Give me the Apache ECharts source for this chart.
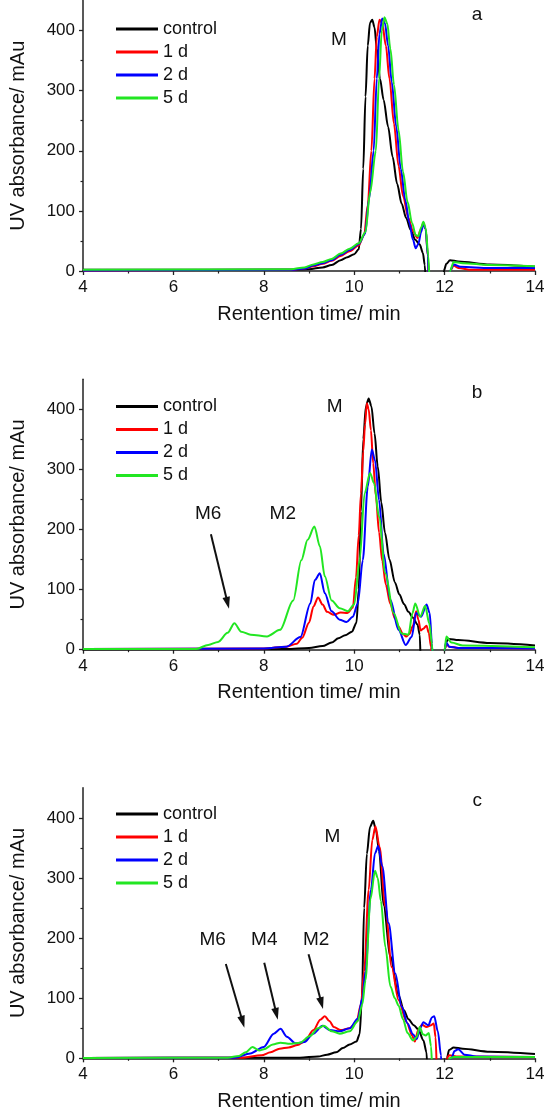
<!DOCTYPE html>
<html><head><meta charset="utf-8">
<script src="https://cdn.jsdelivr.net/npm/echarts@6/dist/echarts.min.js"></script>
<style>html,body{margin:0;padding:0;background:#fff}#c{width:548px;height:1113px}</style>
</head><body><div id="c"></div>
<script>
// ---------- data ----------
const SERIES_NAMES = ['control', '1 d', '2 d', '5 d'];
const SERIES_COLORS = ['#000000', '#ff0000', '#0000ff', '#22e622'];
const X_TITLE = 'Rentention time/ min';
const Y_TITLE = 'UV absorbance/ mAu';
const X_MIN = 4, X_MAX = 14, X_STEP = 2;
const Y_MIN = 0, Y_MAX = 450;
const Y_TICKS = [0, 100, 200, 300, 400];
const Y_MINOR_TICKS = [50, 150, 250, 350];

// panel a
const A_CONTROL = [[4,2],[8.6,2],[9.0,3],[9.3,6],[9.5,10],[9.7,18],[9.85,23],[10.0,28],[10.1,36],[10.15,70],[10.2,170],[10.25,290],[10.3,375],[10.35,413],[10.4,418],[10.45,405],[10.5,370],[10.57,320],[10.65,285],[10.75,240],[10.85,190],[10.95,145],[11.05,112],[11.15,88],[11.25,68],[11.35,52],[11.45,44],[11.52,30],[11.56,10],[11.6,-40],[11.95,-40],[11.98,0],[12.04,12],[12.12,18],[12.3,16],[13,11],[14,7]];
const A_1D = [[4,1],[8.6,2],[8.9,4],[9.1,8],[9.3,12],[9.5,17],[9.7,25],[9.9,33],[10.1,43],[10.22,60],[10.3,110],[10.38,200],[10.45,320],[10.5,390],[10.56,418],[10.62,412],[10.7,375],[10.78,320],[10.88,245],[10.98,175],[11.08,125],[11.2,88],[11.3,66],[11.4,55],[11.47,68],[11.53,80],[11.58,70],[11.63,25],[11.66,-40],[12.08,-40],[12.12,0],[12.2,9],[12.3,5],[12.6,2],[14,2]];
const A_2D = [[4,1],[8.6,2],[8.9,4],[9.1,9],[9.3,13],[9.5,18],[9.7,27],[9.9,35],[10.1,45],[10.24,62],[10.33,120],[10.43,200],[10.5,320],[10.56,395],[10.62,420],[10.68,412],[10.75,375],[10.83,315],[10.93,240],[11.03,170],[11.13,118],[11.22,80],[11.3,52],[11.36,38],[11.42,45],[11.48,65],[11.53,78],[11.58,70],[11.63,25],[11.66,-40],[12.08,-40],[12.12,0],[12.2,11],[12.35,7],[13,5],[14,5]];
const A_5D = [[4,2],[8.6,3],[8.9,6],[9.1,11],[9.3,15],[9.5,20],[9.7,29],[9.9,37],[10.1,46],[10.25,65],[10.35,130],[10.48,200],[10.55,320],[10.61,400],[10.67,422],[10.73,412],[10.8,370],[10.88,310],[10.98,235],[11.08,165],[11.18,115],[11.28,80],[11.36,60],[11.42,58],[11.48,72],[11.53,82],[11.58,72],[11.64,25],[11.68,-40],[12.08,-40],[12.12,0],[12.2,15],[12.4,13],[13,10],[14,8]];

// panel b
const B_CONTROL = [[4,0.5],[8.5,1],[9.0,3],[9.3,6],[9.5,12],[9.65,19],[9.8,24],[9.95,30],[10.05,45],[10.1,100],[10.15,230],[10.2,350],[10.26,405],[10.32,418],[10.38,405],[10.45,360],[10.52,305],[10.6,245],[10.68,195],[10.78,150],[10.9,112],[11.0,92],[11.1,76],[11.2,63],[11.3,53],[11.4,42],[11.45,25],[11.48,-40],[11.96,-40],[12.0,0],[12.04,14],[12.1,18],[12.3,16],[13,11],[14,7]];
const B_1D = [[4,1],[8.0,2],[8.5,5],[8.73,10],[8.85,20],[9.0,45],[9.1,72],[9.2,87],[9.3,75],[9.4,63],[9.55,58],[9.7,62],[9.85,61],[9.97,70],[10.04,120],[10.1,190],[10.15,260],[10.2,330],[10.24,375],[10.28,410],[10.32,400],[10.37,365],[10.42,310],[10.48,255],[10.55,195],[10.62,148],[10.7,108],[10.8,76],[10.9,52],[10.98,38],[11.08,26],[11.15,22],[11.22,26],[11.3,40],[11.37,64],[11.42,50],[11.47,32],[11.53,35],[11.6,40],[11.65,28],[11.7,5],[11.73,-40],[11.98,-40],[12.0,0],[12.04,10],[12.1,5],[12.3,3],[14,2]];
const B_2D = [[4,1],[8.0,2],[8.5,5],[8.81,21],[9.03,77],[9.13,116],[9.24,127],[9.35,94],[9.5,64],[9.68,50],[9.83,46],[9.97,55],[10.08,77],[10.19,149],[10.3,271],[10.39,333],[10.46,315],[10.55,249],[10.65,160],[10.8,83],[10.98,33],[11.14,8],[11.27,21],[11.37,61],[11.48,55],[11.6,75],[11.67,61],[11.72,10],[11.75,-40],[11.98,-40],[12.0,0],[12.04,12],[12.1,5],[12.3,3],[14,2]];
const B_5D = [[4,1],[6.5,1],[6.77,8],[6.99,13],[7.2,28],[7.35,44],[7.5,30],[7.71,25],[8.07,22],[8.36,33],[8.65,82],[8.83,149],[8.97,183],[9.12,205],[9.24,172],[9.35,122],[9.5,82],[9.68,69],[9.86,64],[10.0,75],[10.12,149],[10.23,260],[10.35,294],[10.44,277],[10.55,221],[10.69,127],[10.87,61],[11.05,27],[11.2,25],[11.29,61],[11.35,77],[11.46,55],[11.57,73],[11.66,44],[11.72,10],[11.76,-40],[11.97,-40],[12.0,0],[12.04,22],[12.15,12],[12.4,7],[14,4]];

// panel c
const C_CONTROL = [[4,0.5],[8.8,1],[9.2,3],[9.4,6],[9.6,10],[9.75,17],[9.9,23],[10.05,28],[10.12,40],[10.17,100],[10.22,250],[10.28,340],[10.35,385],[10.42,395],[10.48,380],[10.55,345],[10.65,255],[10.8,170],[10.98,105],[11.1,80],[11.2,65],[11.32,55],[11.42,48],[11.53,30],[11.6,10],[11.63,-40],[12.0,-40],[12.05,0],[12.1,14],[12.2,18],[12.4,16],[13,11],[14,7]];
const C_1D = [[4,0.5],[7.5,1],[7.95,5],[8.15,10],[8.35,16],[8.55,18],[8.75,22],[8.9,28],[9.1,47],[9.25,64],[9.35,70],[9.45,62],[9.55,52],[9.7,47],[9.9,50],[10.05,60],[10.15,90],[10.22,145],[10.32,280],[10.4,363],[10.47,386],[10.56,352],[10.69,252],[10.83,152],[10.98,97],[11.16,60],[11.28,38],[11.34,28],[11.42,48],[11.5,56],[11.6,52],[11.7,55],[11.76,58],[11.8,35],[11.84,-40],[12.02,-40],[12.05,0],[12.1,5],[12.3,3],[14,2]];
const C_2D = [[4,0.5],[7.35,1],[7.7,8],[8.0,19],[8.22,41],[8.37,49],[8.51,36],[8.7,25],[8.9,27],[9.09,41],[9.3,54],[9.46,47],[9.68,45],[9.9,50],[10.08,66],[10.18,100],[10.25,145],[10.37,280],[10.46,341],[10.53,353],[10.62,320],[10.76,225],[10.91,141],[11.05,86],[11.18,58],[11.3,40],[11.38,32],[11.46,50],[11.53,60],[11.64,55],[11.72,68],[11.77,70],[11.85,45],[11.92,5],[11.95,-40],[12.1,-40],[12.15,0],[12.22,12],[12.3,15],[12.44,6],[12.7,3],[14,2]];
const C_5D = [[4,0.5],[7.2,1],[7.45,4],[7.6,10],[7.75,19],[7.9,13],[8.0,15],[8.2,23],[8.37,26],[8.58,24],[8.8,26],[9.02,37],[9.2,50],[9.33,54],[9.5,45],[9.68,41],[9.9,45],[10.08,62],[10.18,90],[10.25,130],[10.36,265],[10.46,312],[10.52,300],[10.59,262],[10.69,185],[10.8,120],[10.9,100],[10.98,88],[11.08,65],[11.18,42],[11.3,30],[11.38,35],[11.45,52],[11.52,40],[11.58,38],[11.65,42],[11.7,20],[11.74,-40],[12.05,-40],[12.1,0],[12.2,2],[14,2]];

// annotations (data coordinates)
const A_NOTES = [{text:'M', x:9.66, y:385}, {text:'a', x:12.72, y:427}];
const B_NOTES = [{text:'M', x:9.57, y:404}, {text:'b', x:12.72, y:427}, {text:'M6', x:6.77, y:226}, {text:'M2', x:8.42, y:226}];
const C_NOTES = [{text:'M', x:9.52, y:368}, {text:'c', x:12.72, y:429}, {text:'M6', x:6.87, y:198}, {text:'M4', x:8.01, y:198}, {text:'M2', x:9.16, y:198}];
const A_ARROWS = [];
const B_ARROWS = [[[6.83,192],[7.23,68]]];
const C_ARROWS = [[[7.16,157],[7.57,51]], [[8.01,159],[8.31,64]], [[8.99,173],[9.31,82]]];

// ---------- layout ----------
const FONT = '"Liberation Sans", Arial, sans-serif';
const PANELS = [
  {data:[A_CONTROL, A_1D, A_2D, A_5D], notes:A_NOTES, arrows:A_ARROWS, top:0.5, legendTop:20},
  {data:[B_CONTROL, B_1D, B_2D, B_5D], notes:B_NOTES, arrows:B_ARROWS, top:379.2, legendTop:397.5},
  {data:[C_CONTROL, C_1D, C_2D, C_5D], notes:C_NOTES, arrows:C_ARROWS, top:787.8, legendTop:805}
];
const GRID_LEFT = 76, GRID_WIDTH = 459, GRID_HEIGHT = 270.5;
const AXIS_COLOR = '#222';

const option = {
  animation: false,
  backgroundColor: '#fff',
  textStyle: {fontFamily: FONT},
  grid: [], xAxis: [], yAxis: [], series: [], legend: []
};

PANELS.forEach((p, i) => {
  option.grid.push({left: GRID_LEFT, width: GRID_WIDTH, top: p.top, height: GRID_HEIGHT, containLabel: false});
  option.xAxis.push({
    type: 'value', gridIndex: i, min: X_MIN, max: X_MAX, interval: X_STEP, position: 'bottom',
    name: X_TITLE, nameLocation: 'middle', nameGap: 33,
    nameTextStyle: {fontSize: 20, color: '#111', fontFamily: FONT},
    axisLine: {show: true, onZero: false, lineStyle: {color: AXIS_COLOR, width: 1.5}},
    axisTick: {show: true, inside: false, length: 4, lineStyle: {color: AXIS_COLOR, width: 1.3}},
    minorTick: {show: true, splitNumber: 2, length: 2.5, lineStyle: {color: AXIS_COLOR, width: 1.2}},
    axisLabel: {fontSize: 17, color: '#111', margin: 8, fontFamily: FONT},
    splitLine: {show: false}, minorSplitLine: {show: false}
  });
  option.yAxis.push({
    type: 'value', gridIndex: i, min: Y_MIN, max: Y_MAX, interval: 50, position: 'left',
    name: Y_TITLE, nameLocation: 'middle', nameGap: 55,
    nameTextStyle: {fontSize: 20, color: '#111', fontFamily: FONT},
    axisLine: {show: true, onZero: false, lineStyle: {color: AXIS_COLOR, width: 1.5}},
    axisTick: {show: true, inside: false, length: 4, customValues: Y_TICKS, lineStyle: {color: AXIS_COLOR, width: 1.3}},
    axisLabel: {fontSize: 17, color: '#111', margin: 8, customValues: Y_TICKS, fontFamily: FONT},
    splitLine: {show: false}
  });
  option.yAxis.push({
    type: 'value', gridIndex: i, min: Y_MIN, max: Y_MAX, interval: 50, position: 'left', offset: 0,
    axisLine: {show: false, onZero: false},
    axisTick: {show: true, inside: false, length: 2.5, customValues: Y_MINOR_TICKS, lineStyle: {color: AXIS_COLOR, width: 1.2}},
    axisLabel: {show: false},
    splitLine: {show: false}
  });
  option.legend.push({
    orient: 'vertical', left: 116, top: p.legendTop, padding: 0,
    itemWidth: 42, itemHeight: 3, itemGap: 5, icon: 'rect', selectedMode: false,
    textStyle: {fontSize: 18, color: '#111', fontFamily: FONT},
    data: SERIES_NAMES.slice()
  });
  p.data.forEach((d, s) => {
    option.series.push({
      type: 'line', name: SERIES_NAMES[s], xAxisIndex: i, yAxisIndex: 2 * i,
      data: d, symbol: 'none', smooth: 0.3, smoothMonotone: 'x', clip: true,
      lineStyle: {width: 2, color: SERIES_COLORS[s]}, itemStyle: {color: SERIES_COLORS[s]},
      z: 2 + s
    });
  });
});

const chart = echarts.init(document.getElementById('c'), null, {renderer: 'canvas'});
chart.setOption(option);

const graphics = [];
PANELS.forEach((p, i) => {
  const toPx = pt => chart.convertToPixel({xAxisIndex: i, yAxisIndex: 2 * i}, pt);
  p.notes.forEach(n => {
    const [px, py] = toPx([n.x, n.y]);
    graphics.push({type: 'text', x: px, y: py, z: 100,
      style: {text: n.text, fontSize: 19, fontFamily: FONT, fill: '#111', align: 'center', verticalAlign: 'middle'}});
  });
  p.arrows.forEach(a => {
    const [x1, y1] = toPx(a[0]);
    const [x2, y2] = toPx(a[1]);
    const dx = x2 - x1, dy = y2 - y1, L = Math.hypot(dx, dy);
    const ux = dx / L, uy = dy / L, nx = -uy, ny = ux;
    const headL = 12, headW = 3.8;
    const bx = x2 - ux * headL, by = y2 - uy * headL;
    graphics.push({type: 'line', z: 100, shape: {x1: x1, y1: y1, x2: bx + ux * 2, y2: by + uy * 2},
      style: {stroke: '#111', lineWidth: 2}});
    graphics.push({type: 'polygon', z: 100,
      shape: {points: [[x2, y2], [bx + nx * headW, by + ny * headW], [bx - nx * headW, by - ny * headW]]},
      style: {fill: '#111'}});
  });
});
chart.setOption({graphic: graphics});
</script>
</body></html>
